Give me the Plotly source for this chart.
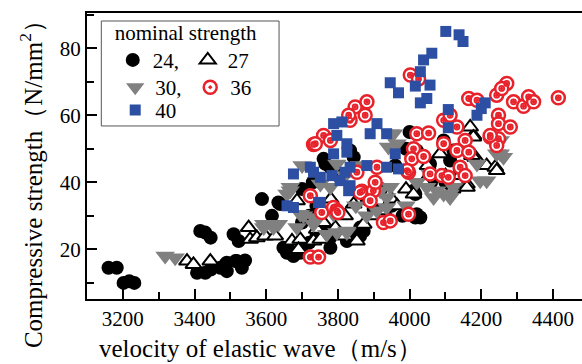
import plotly.graph_objects as go

# nominal strength 24
x24 = [3160, 3183, 3202, 3218, 3232, 3407, 3430, 3445, 3472, 3490, 3490, 3518, 3532, 3541, 3486, 3514,
       3416, 3430, 3445, 3509, 3523, 3588, 3616, 3634, 3639, 3648, 3658, 3667, 3676, 3695, 3700,
       3720, 3740, 3760, 3779, 3779, 3800, 3825, 3844, 3862, 3872, 3862, 3700, 3720, 3740, 3700, 3730,
       3760, 3765, 3779, 3800, 3834, 3844, 3880, 3900, 3920, 3950, 3980, 4016, 4030, 4020, 4016, 4011,
       3960, 3990, 4000, 4020, 4057, 4095, 4113, 4122, 4060, 4100, 4140]
y24 = [14.5, 14.5, 10, 10.5, 10, 13, 13, 14, 14.5, 16, 13.5, 16.5, 14.5, 16.7, 15.5, 16.5,
       25.5, 25, 23.5, 24.5, 22.5, 35, 30, 34, 33.5, 20.5, 19, 19.5, 18, 19, 21,
       22, 24, 26, 20.5, 23.5, 25, 22.5, 23.5, 24, 25.5, 26.5, 28, 30, 33, 38, 40,
       47, 45.5, 44.5, 42, 49.5, 47.5, 35, 32, 38, 33, 30, 29.5, 29.5, 30.5, 36.5, 37.5,
       45, 50, 55, 49.5, 45.5, 52.5, 46.5, 49.5, 40, 40, 44]

# nominal strength 27
x27 = [3379, 3397, 3444, 3551, 3555, 3574, 3597, 3625, 3686, 3672, 3695, 3690, 3732, 3751, 3741, 3793,
       3820, 3853, 3872, 3844, 3900, 3927, 3950, 3965, 3990, 4011, 4040, 4050, 4085, 4100, 4120, 4160,
       4160, 4183, 4174, 4178, 4169, 4178, 4215, 4239, 4243, 4140, 3780, 3820, 3760]
y27 = [16.5, 15.5, 16.5, 26.5, 23, 23.5, 24, 24, 34.5, 22.5, 23, 20, 22.5, 23, 26, 26.5,
       24, 22.5, 27.5, 33.5, 30, 31.5, 35, 33, 38, 36.5, 40, 45, 48.5, 42, 38, 39.5,
       38.5, 47.5, 48, 54, 56.5, 53.5, 45, 44.5, 43.5, 42, 35, 30, 28]

# nominal strength 30
x30 = [3318, 3346, 3593, 3620, 3634, 3593, 3658, 3667, 3667, 3686, 3704, 3695, 3732, 3732, 3751, 3779,
       3769, 3788, 3797, 3825, 3825, 3797, 3820, 3909, 3936, 3936, 3918, 3946, 3941, 3946, 3955, 3965,
       4048, 4057, 4067, 4076, 4095, 4113, 4113, 4122, 4188, 4197, 4215, 4243, 4253, 4253, 4262,
       3850, 3880, 3990, 4020, 3700, 3860]
y30 = [18, 17.5, 26.5, 26.5, 27.5, 27.5, 36.5, 37.5, 38.5, 26.5, 30, 30.5, 27.5, 29.5, 39.5, 38.5,
       24.5, 30.5, 25, 25, 25.5, 45.5, 42, 31.5, 35.5, 32.5, 37.5, 38.5, 50.5, 54.5, 54.5, 51.5,
       38.5, 42.5, 35.5, 37.5, 36.5, 36.5, 35.5, 38.5, 45.5, 40.5, 40.5, 48.5, 48.5, 52.5, 47.5,
       33, 30, 33, 40, 45, 45]

# nominal strength 36
x36 = [4002, 4025, 3848, 3881, 3876, 3834, 3830, 3760, 3732, 3737, 3779,
       4165, 4188, 4243, 4271, 4257, 4290, 4318, 4332, 4346, 4415,
       4248, 4248, 4281, 4225, 4248, 4243,
       4020, 4053, 4095, 4113, 4132, 4155, 4095,
       4132, 4165, 4011, 4006, 4039, 3997, 3993, 3909, 3853,
       3867, 3899, 3904, 3890, 3862, 3723, 3755, 3788, 3797, 3800,
       3997, 3927, 3946, 3723, 3746,
       4057, 4090, 4108, 4141, 4155, 4225]
y36 = [72, 70.8, 62.5, 64, 60, 58.5, 60, 54, 51.3, 51.5, 52.5,
       65, 64.5, 66, 69.5, 68, 64, 62.7, 65.5, 64, 65.2,
       60, 57.5, 56.5, 53.5, 53, 51,
       54.5, 54.7, 58.5, 60, 56.5, 52.5, 51.5,
       49.5, 49, 50, 47, 47.7, 43, 43.5, 44.5, 43,
       37.3, 37.5, 40, 34.5, 37, 36, 31, 32.5, 31.5, 31,
       30.5, 28, 28.5, 17.7, 17.7,
       42.5, 42, 41.5, 44.5, 42, 54]

# nominal strength 40
x40 = [4101, 4138, 4149, 4062, 4039, 4030, 3946, 3969, 4016, 4057, 4048, 4030, 4108, 4211, 4188, 4200, 4108,
       3909, 3890, 3788, 3811, 3797, 3825, 3825, 3788, 3936,
       3723, 3676, 3732, 3751, 3783, 3806, 3820, 3834, 3830, 3834, 3881, 3936, 3960, 3969, 3658, 3676, 3746, 3751]
y40 = [85, 84, 82, 78.5, 76.5, 73, 69.7, 66.7, 68.7, 69, 65, 63.7, 61.7, 63.7, 60, 62, 56.3,
       57.5, 54.5, 57.5, 58, 54, 51.5, 49, 48.5, 54.5,
       44.5, 42.5, 43, 41.5, 42, 40.5, 43, 44.5, 37.5, 39, 45, 44.5, 48.5, 44, 33, 32.5, 34, 34]

x_ticks = [3200, 3400, 3600, 3800, 4000, 4200, 4400]
y_ticks = [20, 40, 60, 80]

FONT = "Liberation Serif, Times New Roman, serif"
RED = "#e8222b"
BLUE = "#2d4fa3"
GREY = "#808080"
LEG_FONT = dict(family=FONT, size=21, color="black")

fig = go.Figure()
fig.add_trace(go.Scatter(x=x24, y=y24, mode="markers", name="24,", legend="legend",
                         marker=dict(symbol="circle", size=14, color="black", line=dict(width=0))))
fig.add_trace(go.Scatter(x=x27, y=y27, mode="markers", name="27", legend="legend",
                         marker=dict(symbol="triangle-up", size=14, color="white",
                                     line=dict(color="black", width=2))))
fig.add_trace(go.Scatter(x=x30, y=y30, mode="markers", name="30,", legend="legend2",
                         marker=dict(symbol="triangle-down", size=17, color=GREY, line=dict(width=0))))
fig.add_trace(go.Scatter(x=x36, y=y36, mode="markers", name="36", legend="legend2",
                         marker=dict(symbol="circle-dot", size=13, color="white",
                                     line=dict(color=RED, width=2.5))))
fig.add_trace(go.Scatter(x=x36, y=y36, mode="markers", showlegend=False, hoverinfo="skip",
                         marker=dict(symbol="circle-open", size=5, color=RED,
                                     line=dict(color=RED, width=1.8))))
fig.add_trace(go.Scatter(x=x40, y=y40, mode="markers", name="40", legend="legend3",
                         marker=dict(symbol="square", size=11, color=BLUE, line=dict(width=0))))

axis_common = dict(showline=True, linecolor="black", linewidth=2, ticks="inside", ticklen=10,
                   tickwidth=2, tickcolor="black", showgrid=False, zeroline=False,
                   tickfont=dict(family=FONT, size=21, color="black"))

leg_common = dict(xanchor="left", yanchor="top", bgcolor="rgba(0,0,0,0)", borderwidth=0,
                  orientation="h", entrywidth=30, entrywidthmode="pixels", font=LEG_FONT,
                  tracegroupgap=0)

fig.update_layout(
    width=582, height=364,
    margin=dict(l=87, r=0, t=13, b=65),
    plot_bgcolor="white", paper_bgcolor="white",
    xaxis=dict(range=[3100, 4481], tickmode="array", tickvals=x_ticks, mirror=True,
               minor=dict(ticks="inside", ticklen=7, tickwidth=2, tickcolor="black", dtick=100, tick0=3100),
               **axis_common),
    yaxis=dict(range=[5.2, 90.5], tickmode="array", tickvals=y_ticks,
               minor=dict(ticks="inside", ticklen=7, tickwidth=2, tickcolor="black", dtick=10, tick0=10),
               **axis_common),
    legend=dict(x=0.052, y=1.002, title=dict(text="nominal strength", side="top", font=LEG_FONT),
                **leg_common),
    legend2=dict(x=0.057, y=0.811, **leg_common),
    legend3=dict(x=0.057, y=0.731, **leg_common),
    shapes=[dict(type="rect", xref="paper", yref="paper", x0=0.0289, x1=0.388, y0=0.605, y1=0.972,
                 line=dict(color="#555555", width=1))],
    annotations=[
        dict(text="Compressive strength（N/mm<sup>2</sup>）", xref="paper", yref="paper",
             x=-0.113, y=0.423, xanchor="center", yanchor="middle", textangle=-90, showarrow=False,
             font=dict(family=FONT, size=25, color="black")),
        dict(text="velocity of elastic wave（m/s）", xref="paper", yref="paper",
             x=0.35, y=-0.174, xanchor="center", yanchor="middle", showarrow=False,
             font=dict(family=FONT, size=25, color="black")),
    ],
)

fig.write_html("out.html")
